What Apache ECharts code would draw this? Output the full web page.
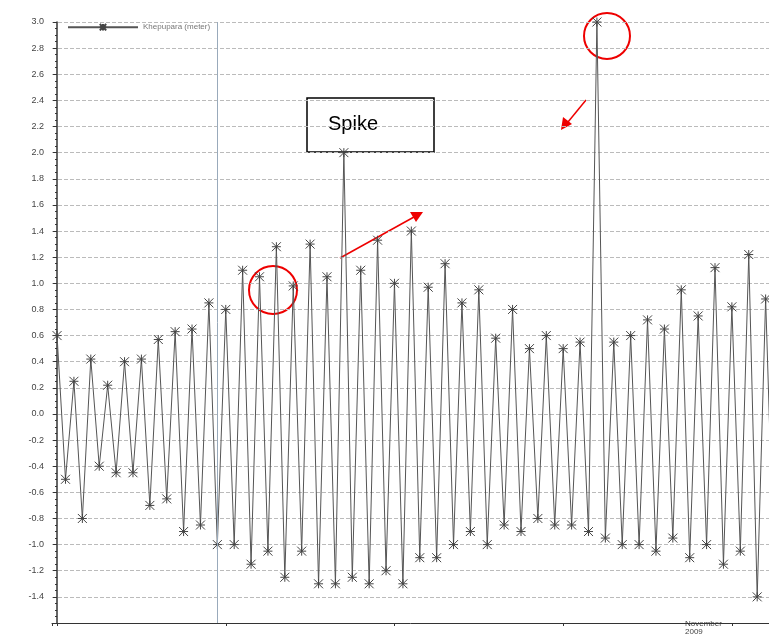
<!DOCTYPE html>
<html><head><meta charset="utf-8">
<script src="https://cdn.jsdelivr.net/npm/echarts@6/dist/echarts.min.js"></script>
<style>html,body{margin:0;padding:0;background:#fff}#c{width:769px;height:641px}</style>
</head><body><div id="c"></div>
<script>
// tidal highs and lows (meter), alternating per half cycle
const highs = [0.6,0.25,0.42,0.22,0.4,0.42,0.57,0.63,0.65,0.85,0.8,1.1,1.05,1.28,0.98,1.3,1.05,2.0,1.1,1.33,1.0,1.4,0.97,1.15,0.85,0.95,0.58,0.8,0.5,0.6,0.5,0.55,3.0,0.55,0.6,0.72,0.65,0.95,0.75,1.12,0.82,1.22,0.88];
const lows = [-0.5,-0.8,-0.4,-0.45,-0.45,-0.7,-0.65,-0.9,-0.85,-1.0,-1.0,-1.15,-1.05,-1.25,-1.05,-1.3,-1.3,-1.25,-1.3,-1.2,-1.3,-1.1,-1.1,-1.0,-0.9,-1.0,-0.85,-0.9,-0.8,-0.85,-0.85,-0.9,-0.95,-1.0,-1.0,-1.05,-0.95,-1.1,-1.0,-1.15,-1.05,-1.4,-1.2];
const seriesName = 'Khepupara (meter)';
const monthLabel = 'November\n2009';

const data = [];
highs.forEach((h, i) => {
  data.push([i, h]);
  if (i < lows.length) data.push([i + 0.5, lows[i]]);
});
const star = 'path://M0,0L10,10M10,0L0,10M5,0L5,10M0,5L10,5';

const chart = echarts.init(document.getElementById('c'));
chart.setOption({
  animation: false,
  grid: { left: 52, right: 0, top: 22, bottom: 18 },
  legend: {
    left: 62, top: 18, itemWidth: 70, itemHeight: 8,
    textStyle: { fontSize: 8, color: '#777' },
    data: [seriesName]
  },
  xAxis: {
    type: 'value', min: -0.3, max: 42.2,
    axisLine: { onZero: false, lineStyle: { color: '#333' } },
    axisTick: { show: true, length: 3 }, axisLabel: { show: false },
    splitLine: { show: false }
  },
  yAxis: {
    type: 'value', min: -1.6, max: 3.0, interval: 0.2,
    axisLine: { show: true, lineStyle: { color: '#333', width: 1.5 } },
    axisTick: { show: true, length: 4 },
    minorTick: { show: true, splitNumber: 4, length: 2 },
    axisLabel: { fontSize: 9, color: '#444', formatter: v => (v < -1.5 ? '' : v.toFixed(1)) },
    splitLine: { lineStyle: { type: 'dashed', color: '#bbb' } }
  },
  series: [{
    name: seriesName, type: 'line', data: data,
    symbol: star, symbolSize: 9,
    lineStyle: { color: '#555', width: 1 },
    itemStyle: { color: '#333', borderColor: '#444', borderWidth: 1 },
    markLine: {
      silent: true, symbol: 'none', label: { show: false },
      lineStyle: { color: '#9ab', type: 'solid', width: 1 },
      data: [{ xAxis: 9.5 }]
    }
  }],
  graphic: [
    { type: 'text', left: 685, top: 620, style: { text: monthLabel, fontSize: 8, fill: '#444', align: 'center' } },
    { type: 'circle', shape: { cx: 607, cy: 36, r: 23 }, style: { fill: 'none', stroke: '#e00', lineWidth: 2 } },
    { type: 'circle', shape: { cx: 273, cy: 290, r: 24 }, style: { fill: 'none', stroke: '#e00', lineWidth: 2 } },
    { type: 'rect', shape: { x: 307, y: 98, width: 127, height: 54 }, style: { fill: '#fff', stroke: '#000', lineWidth: 1.5 } },
    { type: 'text', left: 328, top: 114, style: { text: 'Spike', fontSize: 20, fill: '#000', fontFamily: 'Liberation Sans' } },
    { type: 'line', shape: { x1: 340, y1: 258, x2: 414, y2: 217 }, style: { stroke: '#e00', lineWidth: 1.5 } },
    { type: 'polygon', shape: { points: [[423, 212], [410, 212], [416, 222]] }, style: { fill: '#e00' } },
    { type: 'line', shape: { x1: 586, y1: 100, x2: 568, y2: 122 }, style: { stroke: '#e00', lineWidth: 1.5 } },
    { type: 'polygon', shape: { points: [[561, 130], [563, 117], [572, 124]] }, style: { fill: '#e00' } }
  ]
});
</script></body></html>
